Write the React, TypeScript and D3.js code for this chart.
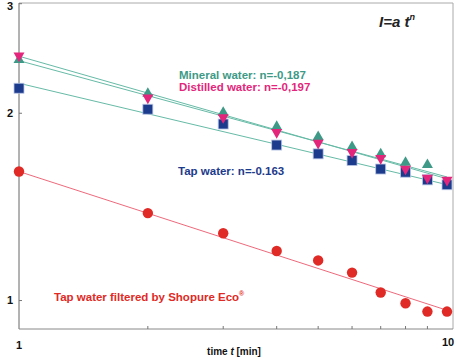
import React from "react";
import * as d3 from "d3";

const times = [1, 2, 3, 4, 5, 6, 7, 8, 9, 10];
const mineral = [2.445, 2.158, 2.012, 1.909, 1.839, 1.772, 1.725, 1.672, 1.658, null];
const distilled = [2.466, 2.111, 1.963, 1.858, 1.785, 1.725, 1.687, 1.622, 1.569, 1.557];
const tap = [2.194, 2.03, 1.922, 1.778, 1.721, 1.679, 1.627, 1.608, 1.563, 1.535];
const filtered = [1.612, 1.382, 1.283, 1.201, 1.16, 1.109, 1.03, 0.99, 0.96, 0.96];

const fitA = { mineral: 2.43, distilled: 2.47, tap: 2.235, filtered: 1.612 };
const fitN = { mineral: -0.187, distilled: -0.197, tap: -0.163, filtered: -0.223 };

const yTickValues = [1, 2, 3];
const xMinorTicks = [2, 3, 4, 5, 6, 7, 8, 9];

const W = 457;
const H = 358;

export default function App() {
  const x = d3.scaleLog().domain([1, 10]).range([19, 447]);
  const y = d3.scaleLog().domain([0.9, 3]).range([329, 3.7]);
  const font = "'Liberation Sans', Arial, sans-serif";

  const fitLine = (a: number, n: number) =>
    d3
      .line<number>()
      .x((t) => x(t))
      .y((t) => y(a * Math.pow(t, n)))([1, 10]) as string;

  const tri = (cx: number, cy: number, up: boolean, s = 5.5) =>
    up
      ? `M${cx},${cy - s} L${cx + s},${cy + s * 0.75} L${cx - s},${cy + s * 0.75} Z`
      : `M${cx},${cy + s} L${cx + s},${cy - s * 0.75} L${cx - s},${cy - s * 0.75} Z`;

  const teal = "#3e9a86";
  const tealLine = "#66bba6";
  const magenta = "#e3267c";
  const navy = "#1d3b8c";
  const red = "#e02a26";
  const redLine = "#ee6a7c";

  return (
    <svg
      width={W}
      height={H}
      style={{ position: "absolute", left: 0, top: 0, background: "#fff" }}
      fontFamily={font}
    >
      {/* frame */}
      <line x1={19} x2={453} y1={3} y2={3} stroke="#aaa" strokeWidth={1} />
      <line x1={453} x2={453} y1={3} y2={329} stroke="#aaa" strokeWidth={1} />
      <line x1={19} x2={19} y1={3} y2={329} stroke="#666" strokeWidth={1} />
      <line x1={19} x2={453} y1={329} y2={329} stroke="#888" strokeWidth={1} />

      {/* ticks */}
      {yTickValues.map((v) => (
        <g key={"yt" + v}>
          <line x1={19} x2={22} y1={y(v)} y2={y(v)} stroke="#777" />
          <text
            x={10}
            y={Math.max(y(v), 6)}
            dy="0.36em"
            textAnchor="middle"
            fontSize={11}
            fontWeight="bold"
            fill="#111"
          >
            {v}
          </text>
        </g>
      ))}
      {xMinorTicks.map((v) => (
        <line key={"xt" + v} x1={x(v)} x2={x(v)} y1={329} y2={326} stroke="#777" />
      ))}
      <text x={x(1)} y={349} textAnchor="middle" fontSize={11} fontWeight="bold" fill="#111">
        1
      </text>
      <text x={x(10) + 1} y={346} textAnchor="middle" fontSize={11} fontWeight="bold" fill="#111">
        10
      </text>
      <text x={234} y={355} textAnchor="middle" fontSize={10} fontWeight="bold" fill="#111">
        time <tspan fontStyle="italic">t</tspan> [min]
      </text>

      {/* fit lines */}
      <path d={fitLine(fitA.mineral, fitN.mineral)} stroke={tealLine} strokeWidth={1} fill="none" />
      <path d={fitLine(fitA.distilled, fitN.distilled)} stroke={tealLine} strokeWidth={1} fill="none" />
      <path d={fitLine(fitA.tap, fitN.tap)} stroke={tealLine} strokeWidth={1} fill="none" />
      <path d={fitLine(fitA.filtered, fitN.filtered)} stroke={redLine} strokeWidth={1} fill="none" />

      {/* markers */}
      {tap.map((v, i) =>
        v == null ? null : (
          <rect
            key={"tap" + i}
            x={x(times[i]) - 5}
            y={y(v) - 5}
            width={10}
            height={10}
            fill={navy}
            stroke="#b9c6e6"
            strokeWidth={0.8}
          />
        )
      )}
      {mineral.map((v, i) =>
        v == null ? null : <path key={"min" + i} d={tri(x(times[i]), y(v), true)} fill={teal} />
      )}
      {distilled.map((v, i) =>
        v == null ? null : <path key={"dis" + i} d={tri(x(times[i]), y(v), false)} fill={magenta} />
      )}
      {filtered.map((v, i) =>
        v == null ? null : (
          <circle key={"fil" + i} cx={x(times[i])} cy={y(v)} r={5.2} fill={red} />
        )
      )}

      {/* labels */}
      <text x={179} y={78.5} fontSize={11.5} fontWeight="bold" fill={teal}>
        Mineral water: n=-0,187
      </text>
      <text x={179} y={90.5} fontSize={11.5} fontWeight="bold" fill={magenta}>
        Distilled water: n=-0,197
      </text>
      <text x={178} y={174.5} fontSize={11.5} fontWeight="bold" fill={navy}>
        Tap water: n=-0.163
      </text>
      <text x={54} y={300.5} fontSize={11.5} fontWeight="bold" fill={red}>
        Tap water filtered by Shopure Eco
        <tspan fontSize={7} dy={-5}>®</tspan>
      </text>
      <text x={379} y={27} fontSize={15} fontWeight="bold" fontStyle="italic" fill="#222">
        I=a t<tspan fontSize={9} dy={-7}>n</tspan>
      </text>
    </svg>
  );
}
